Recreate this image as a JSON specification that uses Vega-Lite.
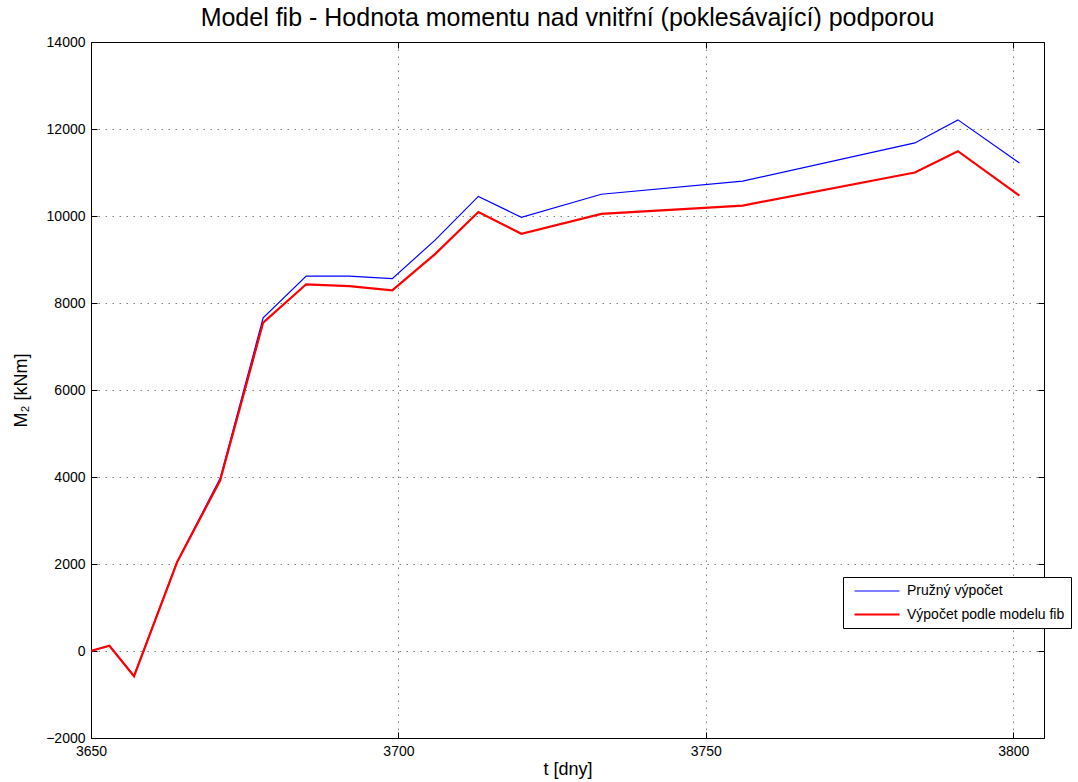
{
  "$schema": "https://vega.github.io/schema/vega-lite/v6.json",
  "width": 953,
  "height": 696,
  "autosize": {"type": "none"},
  "padding": {"left": 91, "top": 42, "right": 34, "bottom": 44},
  "background": "white",
  "title": {
    "text": "Model fib - Hodnota momentu nad vnitřní (poklesávající) podporou",
    "font": "Liberation Sans",
    "fontSize": 25,
    "fontWeight": "normal",
    "color": "black",
    "anchor": "middle",
    "offset": 4
  },
  "data": {
    "values": [
      {"t": 3650, "M": 0, "s": "Pružný výpočet"},
      {"t": 3653, "M": 120, "s": "Pružný výpočet"},
      {"t": 3657, "M": -570, "s": "Pružný výpočet"},
      {"t": 3664, "M": 2050, "s": "Pružný výpočet"},
      {"t": 3671, "M": 3970, "s": "Pružný výpočet"},
      {"t": 3678, "M": 7660, "s": "Pružný výpočet"},
      {"t": 3685, "M": 8620, "s": "Pružný výpočet"},
      {"t": 3692, "M": 8620, "s": "Pružný výpočet"},
      {"t": 3699, "M": 8560, "s": "Pružný výpočet"},
      {"t": 3706, "M": 9450, "s": "Pružný výpočet"},
      {"t": 3713, "M": 10450, "s": "Pružný výpočet"},
      {"t": 3720, "M": 9970, "s": "Pružný výpočet"},
      {"t": 3733, "M": 10500, "s": "Pružný výpočet"},
      {"t": 3756, "M": 10800, "s": "Pružný výpočet"},
      {"t": 3784, "M": 11680, "s": "Pružný výpočet"},
      {"t": 3791, "M": 12210, "s": "Pružný výpočet"},
      {"t": 3801, "M": 11220, "s": "Pružný výpočet"},
      {"t": 3650, "M": 0, "s": "Výpočet podle modelu fib"},
      {"t": 3653, "M": 120, "s": "Výpočet podle modelu fib"},
      {"t": 3657, "M": -580, "s": "Výpočet podle modelu fib"},
      {"t": 3664, "M": 2040, "s": "Výpočet podle modelu fib"},
      {"t": 3671, "M": 3920, "s": "Výpočet podle modelu fib"},
      {"t": 3678, "M": 7550, "s": "Výpočet podle modelu fib"},
      {"t": 3685, "M": 8430, "s": "Výpočet podle modelu fib"},
      {"t": 3692, "M": 8390, "s": "Výpočet podle modelu fib"},
      {"t": 3699, "M": 8290, "s": "Výpočet podle modelu fib"},
      {"t": 3706, "M": 9130, "s": "Výpočet podle modelu fib"},
      {"t": 3713, "M": 10090, "s": "Výpočet podle modelu fib"},
      {"t": 3720, "M": 9590, "s": "Výpočet podle modelu fib"},
      {"t": 3733, "M": 10050, "s": "Výpočet podle modelu fib"},
      {"t": 3756, "M": 10240, "s": "Výpočet podle modelu fib"},
      {"t": 3784, "M": 11000, "s": "Výpočet podle modelu fib"},
      {"t": 3791, "M": 11490, "s": "Výpočet podle modelu fib"},
      {"t": 3801, "M": 10470, "s": "Výpočet podle modelu fib"}
    ]
  },
  "layer": [
    {
      "mark": {"type": "line", "clip": true},
      "encoding": {
        "x": {
          "field": "t", "type": "quantitative",
          "scale": {"domain": [3650, 3805], "nice": false, "zero": false},
          "axis": {"orient": "bottom", "title": "t [dny]", "values": [3650, 3700, 3750, 3800], "format": "d"}
        },
        "y": {
          "field": "M", "type": "quantitative",
          "scale": {"domain": [-2000, 14000], "nice": false},
          "axis": {"orient": "left", "title": "M₂ [kNm]", "format": "d", "values": [-2000, 0, 2000, 4000, 6000, 8000, 10000, 12000, 14000]}
        },
        "color": {
          "field": "s", "type": "nominal", "title": null,
          "scale": {"domain": ["Pružný výpočet", "Výpočet podle modelu fib"], "range": ["#0000ff", "#ff0000"]},
          "legend": {
            "orient": "none", "legendX": 752, "legendY": 535,
            "symbolType": "M-0.4286,0H6", "symbolSize": 196,
            "labelFont": "Liberation Sans", "labelFontSize": 14, "labelColor": "black",
            "labelLimit": 400,
            "strokeColor": "black", "fillColor": "white", "padding": 6,
            "rowPadding": 8, "labelOffset": 41
          }
        },
        "strokeWidth": {
          "field": "s", "type": "nominal", "title": null,
          "scale": {"domain": ["Pružný výpočet", "Výpočet podle modelu fib"], "range": [1.2, 2.2]},
          "legend": null
        }
      }
    },
    {
      "mark": {"type": "line", "opacity": 0},
      "encoding": {
        "x": {
          "field": "t", "type": "quantitative",
          "axis": {"orient": "top", "title": null, "labels": false, "grid": false, "values": [3650, 3700, 3750, 3800]}
        },
        "y": {
          "field": "M", "type": "quantitative",
          "axis": {"orient": "right", "title": null, "labels": false, "grid": false, "values": [-2000, 0, 2000, 4000, 6000, 8000, 10000, 12000, 14000]}
        }
      }
    }
  ],
  "resolve": {"axis": {"x": "independent", "y": "independent"}},
  "config": {
    "view": {"stroke": "black", "strokeWidth": 1},
    "axis": {
      "domainColor": "black",
      "tickColor": "black",
      "tickSize": -6,
      "labelFont": "Liberation Sans",
      "labelFontSize": 14,
      "labelColor": "black",
      "labelFlush": false,
      "labelOverlap": false,
      "titleFont": "Liberation Sans",
      "titleFontSize": 18,
      "titleFontWeight": "normal",
      "titleColor": "black",
      "grid": true,
      "gridColor": "#808080",
      "gridDash": [1.5, 5.5],
      "gridOpacity": 1,
      "labelPadding": 12
    },
    "axisX": {"titlePadding": 2},
    "axisY": {"titlePadding": 15}
  }
}
